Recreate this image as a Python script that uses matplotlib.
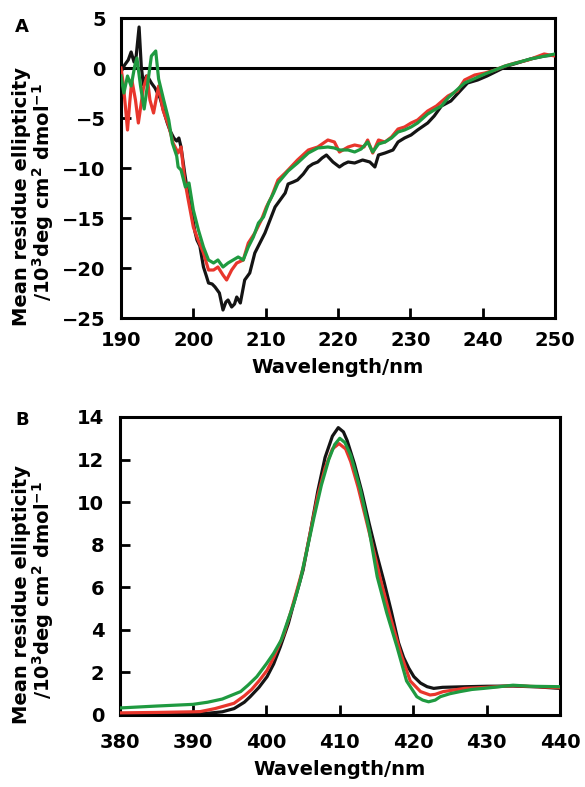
import matplotlib
matplotlib.use('Agg')
import matplotlib.pyplot as plt
import numpy as np

plt.rcParams['font.family'] = ['DejaVu Sans']
plt.rcParams['font.weight'] = 'bold'
plt.rcParams['mathtext.default'] = 'bf'

# ---- panel A: far-UV CD ----
a_black_wl = [190.0, 190.5, 191.0, 191.4, 191.8, 192.1, 192.5, 192.8, 193.1, 193.5, 193.8, 194.2, 194.7,
              195.1, 195.4, 195.9, 196.4, 196.8, 197.3, 197.7, 198.0, 198.3, 198.8, 199.3, 199.8, 200.2,
              200.5, 200.9, 201.4, 201.8, 202.1, 202.6, 203.0, 203.6, 204.1, 204.5, 204.8, 205.3, 205.7,
              206.0, 206.5, 207.1, 207.8, 208.5, 209.2, 209.9, 210.6, 211.3, 212.0, 212.7, 213.1, 213.8,
              214.4, 215.2, 215.9, 216.5, 217.2, 217.8, 218.4, 219.3, 220.2, 220.8, 221.4, 222.3, 223.4,
              224.4, 225.1, 225.6, 226.5, 227.6, 228.3, 229.2, 230.1, 231.0, 232.4, 233.3, 234.3, 235.6,
              237.0, 237.9, 239.3, 240.6, 242.0, 243.4, 244.8, 246.6, 248.5, 250.0]
a_black = [-0.4, 0.3, 0.8, 1.6, 0.6, 1.2, 4.1, 0.2, -1.7, -0.8, -1.0, -1.5, -2.0,
           -2.6, -3.0, -4.3, -5.5, -6.3, -7.0, -7.3, -7.0, -7.9, -10.5, -12.8, -14.5, -16.3,
           -17.2, -17.8, -19.9, -20.8, -21.5, -21.6, -21.9, -22.5, -24.2, -23.4, -23.2, -23.9, -23.6,
           -22.9, -23.5, -21.2, -20.5, -18.5, -17.5, -16.5, -15.2, -13.9, -13.2, -12.5, -11.6, -11.4,
           -11.2, -10.6, -9.9, -9.6, -9.4, -9.0, -8.7, -9.4, -9.9, -9.6, -9.4, -9.5, -9.2,
           -9.4, -9.9, -8.7, -8.5, -8.2, -7.4, -7.0, -6.7, -6.2, -5.5, -4.8, -3.8, -3.3,
           -2.2, -1.5, -1.2, -0.8, -0.3, 0.2, 0.5, 0.9, 1.2, 1.3]

a_red_wl = [190.0, 190.3, 190.6, 190.9, 191.2, 191.5, 192.0, 192.4, 192.8, 193.1, 193.6, 194.0, 194.5,
            195.2, 195.8, 196.6, 197.2, 197.9, 198.3, 198.8, 199.3, 200.0, 200.5, 201.4, 202.1, 202.8,
            203.4, 204.1, 204.6, 205.3, 206.0, 206.9, 207.6, 208.5, 209.4, 210.1, 210.8, 211.7, 212.7,
            213.1, 214.4, 215.9, 217.2, 218.6, 219.5, 220.2, 221.4, 222.3, 223.6, 224.1, 224.8, 225.6,
            226.5, 227.4, 228.3, 229.2, 230.1, 231.0, 232.4, 233.6, 235.2, 236.5, 237.5, 238.9, 240.3,
            241.7, 243.1, 244.5, 246.3, 248.5, 250.0]
a_red = [0.0, -1.5, -3.8, -6.2, -3.5, -1.2, -3.2, -5.5, -3.5, -2.0, -0.8, -3.2, -4.5,
         -1.8, -4.2, -5.8, -7.5, -8.5, -7.9, -11.2, -13.2, -15.9, -16.9, -18.5, -20.2, -20.2,
         -19.9, -20.7, -21.2, -20.2, -19.5, -19.2, -17.5, -16.5, -15.2, -13.9, -12.9, -11.2, -10.5,
         -10.2, -9.2, -8.2, -7.9, -7.2, -7.4, -8.4, -7.9, -7.7, -7.9, -7.2, -8.5, -7.2,
         -7.4, -6.9, -6.1, -5.9, -5.5, -5.2, -4.3, -3.8, -2.8, -2.3, -1.2, -0.7, -0.5,
         -0.2, 0.2, 0.5, 0.8, 1.4, 1.2]

a_green_wl = [190.0, 190.4, 190.9, 191.4, 191.9, 192.2, 192.7, 193.2, 193.7, 194.2, 194.8, 195.2, 195.9,
              196.6, 197.1, 197.7, 197.9, 198.3, 198.9, 199.4, 200.0, 200.7, 201.4, 202.1, 202.8, 203.4,
              204.1, 204.8, 205.5, 206.2, 206.9, 207.6, 208.3, 209.0, 209.7, 210.4, 211.1, 211.7, 212.4,
              213.1, 214.4, 215.9, 217.2, 218.6, 219.5, 220.2, 221.4, 222.3, 223.2, 224.1, 224.8, 225.6,
              226.5, 227.4, 228.3, 229.2, 230.1, 231.0, 232.4, 233.3, 234.3, 235.2, 237.5, 240.3, 243.1,
              246.6, 250.0]
a_green = [-0.8, -2.5, -0.8, -1.8, 0.2, 1.0, -1.8, -4.1, -1.5, 1.2, 1.7, -1.1, -3.2,
           -5.2, -7.5, -8.8, -9.9, -10.2, -11.9, -11.5, -14.2, -16.2, -17.9, -19.2, -19.5, -19.2,
           -19.9, -19.5, -19.2, -18.9, -19.2, -17.9, -16.9, -15.5, -14.9, -13.5, -12.5, -11.5, -10.9,
           -10.3, -9.5, -8.5, -8.0, -7.9, -8.0, -8.2, -8.2, -8.4, -8.1, -7.4, -8.4, -7.6,
           -7.4, -7.0, -6.4, -6.2, -5.9, -5.5, -4.6, -4.2, -3.8, -3.0, -1.5, -0.6, 0.2,
           0.9, 1.4]

# ---- panel B: Soret CD ----
b_black_wl = [380, 385, 390, 392, 394, 395.6, 397, 397.8, 399, 400.1, 401, 401.9, 403, 403.7, 405, 406,
              407, 408, 409, 409.8, 410.5, 411, 412, 413, 414, 415, 416, 417, 417.4, 418, 418.7, 419.4,
              420.1, 421, 421.9, 422.8, 424, 427.3, 430, 433.6, 437, 440]
b_black = [0.02, 0.0, 0.03, 0.08, 0.15, 0.3, 0.6, 0.86, 1.3, 1.8, 2.4, 3.2, 4.3, 5.2, 6.8, 8.6,
           10.5, 12.1, 13.1, 13.5, 13.3, 12.9, 11.8, 10.5, 9.0, 7.6, 6.3, 4.9, 4.3, 3.4, 2.7, 2.2,
           1.8, 1.5, 1.33, 1.25, 1.3, 1.33, 1.35, 1.36, 1.32, 1.25]

b_red_wl = [380, 385, 390, 391, 393, 395.6, 397, 398, 399, 400.1, 401, 402.4, 403.3, 404.2, 405, 406,
            407, 408, 409, 409.9, 410.8, 411.5, 412.5, 413.5, 414.5, 415.6, 416.9, 418.3, 419.6, 421,
            422.3, 423, 424.1, 427, 430, 433.6, 437, 440]
b_red = [0.1, 0.12, 0.15, 0.16, 0.3, 0.55, 0.9, 1.2, 1.6, 2.1, 2.7, 3.8, 4.8, 5.9, 6.9, 8.6,
         10.3, 11.6, 12.5, 12.75, 12.5, 11.9, 10.7, 9.3, 7.9, 6.3, 4.6, 2.9, 1.6, 1.1,
         0.94, 0.97, 1.1, 1.25, 1.3, 1.38, 1.33, 1.28]

b_green_wl = [380, 385, 390, 392, 394, 396.5, 397.5, 398.7, 400, 401, 402, 402.8, 403.8, 404.6, 405.5, 406.5,
              407.5, 408.5, 409.3, 410, 410.7, 411.5, 412.8, 414, 415.1, 416.4, 417.8, 419.1, 420.5,
              421.3, 422.1, 423, 423.7, 425, 426.4, 428, 429.6, 431, 433.6, 436, 440]
b_green = [0.33, 0.42, 0.5, 0.6, 0.75, 1.1, 1.4, 1.8, 2.4, 2.9, 3.5, 4.3, 5.3, 6.3, 7.7, 9.3,
           10.8, 12.0, 12.7, 13.0, 12.8, 12.2, 10.6, 8.7, 6.5, 4.8, 3.2, 1.6, 0.86,
           0.7, 0.62, 0.7, 0.86, 1.0, 1.1, 1.2, 1.25, 1.3, 1.4, 1.35, 1.33]

c_black = '#141414'
c_red = '#e8362c'
c_green = '#1f9a40'
lw = 2.3
fs = 14

fig = plt.figure(figsize=(5.85, 7.87), dpi=100)
axA = fig.add_axes([121 / 585, 1 - 318 / 787, 434 / 585, 300 / 787])
axB = fig.add_axes([119.5 / 585, 1 - 715 / 787, 440.5 / 585, 298 / 787])

axA.axhline(0, color='black', lw=2.2, zorder=1)
axA.plot(a_black_wl, a_black, color=c_black, lw=lw, zorder=2)
axA.plot(a_red_wl, a_red, color=c_red, lw=lw, zorder=3)
axA.plot(a_green_wl, a_green, color=c_green, lw=lw, zorder=4)
axA.set_xlim(190, 250)
axA.set_ylim(-25, 5)
axA.set_xticks([190, 200, 210, 220, 230, 240, 250])
axA.set_yticks([5, 0, -5, -10, -15, -20, -25])
axA.set_yticklabels(['5', '0', '\u22125', '\u221210', '\u221215', '\u221220', '\u221225'])

axB.plot(b_black_wl, b_black, color=c_black, lw=lw, zorder=2)
axB.plot(b_red_wl, b_red, color=c_red, lw=lw, zorder=3)
axB.plot(b_green_wl, b_green, color=c_green, lw=lw, zorder=4)
axB.set_xlim(380, 440)
axB.set_ylim(0, 14)
axB.set_xticks([380, 390, 400, 410, 420, 430, 440])
axB.set_yticks([0, 2, 4, 6, 8, 10, 12, 14])

for ax in (axA, axB):
    for s in ax.spines.values():
        s.set_linewidth(2.2)
    ax.tick_params(direction='in', length=7, width=2.0, labelsize=fs, pad=9)
    ax.tick_params(axis='y', pad=11)
    for lab in ax.get_xticklabels() + ax.get_yticklabels():
        lab.set_fontweight('bold')
axA.set_xlabel('Wavelength/nm', fontsize=fs, fontweight='bold', labelpad=6)
axB.tick_params(axis='x', pad=13)
axB.set_xlabel('Wavelength/nm', fontsize=fs, fontweight='bold', labelpad=6)

ylab1 = 'Mean residue ellipticity'
ylab2 = r'/10$^3$deg cm$^2$ dmol$^{-1}$'
fig.text(22 / 585, 1 - 197 / 787, ylab1, rotation=90, ha='center', va='center', fontsize=fs, fontweight='bold')
fig.text(43 / 585, 1 - 192 / 787, ylab2, rotation=90, ha='center', va='center', fontsize=fs, fontweight='bold')
fig.text(22 / 585, 1 - 595 / 787, ylab1, rotation=90, ha='center', va='center', fontsize=fs, fontweight='bold')
fig.text(43 / 585, 1 - 590 / 787, ylab2, rotation=90, ha='center', va='center', fontsize=fs, fontweight='bold')

fig.text(22 / 585, 1 - 27 / 787, 'A', ha='center', va='center', fontsize=fs - 1, fontweight='bold')
fig.text(22 / 585, 1 - 420 / 787, 'B', ha='center', va='center', fontsize=fs - 1, fontweight='bold')

fig.savefig('out.png', dpi=100)
